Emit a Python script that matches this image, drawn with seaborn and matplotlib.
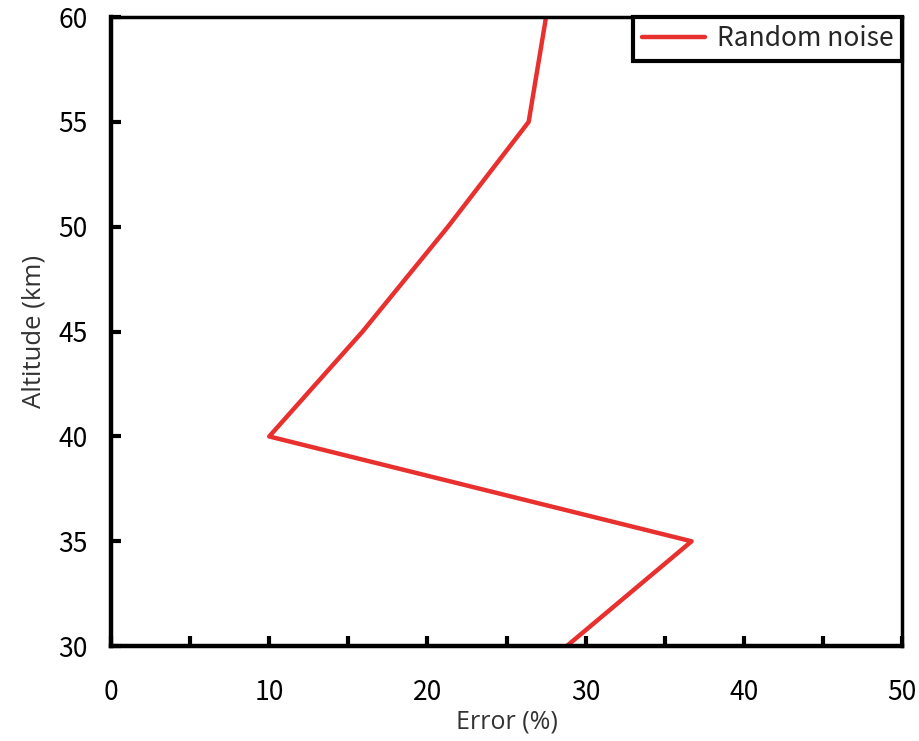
import matplotlib
matplotlib.use("Agg")
import matplotlib.pyplot as plt
import seaborn as sns
import pandas as pd

altitude_km = [30, 35, 40, 45, 50, 55, 60]
error_pct = [28.8, 36.7, 10.0, 15.9, 21.3, 26.4, 27.5]
series_name = "Random noise"
x_ticks = [0, 10, 20, 30, 40, 50]
y_ticks = [30, 35, 40, 45, 50, 55, 60]

sns.set_theme(style="white")
plt.rcParams["font.family"] = ["Noto Sans CJK JP", "DejaVu Sans"]
plt.rcParams["xtick.bottom"] = True
plt.rcParams["ytick.left"] = True

df = pd.DataFrame({"Error": error_pct, "Altitude": altitude_km, "series": series_name})

fig = plt.figure(figsize=(9.19, 7.41), dpi=100)
ax = fig.add_axes([0.1208, 0.128, 0.8607, 0.849])

sns.lineplot(data=df, x="Error", y="Altitude", hue="series", sort=False,
             palette=["#E8302E"], linewidth=3.2, ax=ax)

ax.set_xlim(0, 50)
ax.set_ylim(30, 60)
ax.set_xticks(x_ticks)
ax.set_xticks([5, 15, 25, 35, 45], minor=True)
ax.set_yticks(y_ticks)
ax.tick_params(axis="both", which="both", direction="in", length=7, width=3,
               color="black", labelsize=19, labelcolor="black",
               bottom=True, left=True, top=False, right=False)
ax.tick_params(axis="y", pad=17)
ax.tick_params(axis="x", pad=24)

for side in ["left", "bottom"]:
    ax.spines[side].set_linewidth(3.2)
    ax.spines[side].set_color("black")
for side in ["top", "right"]:
    ax.spines[side].set_linewidth(2.5)
    ax.spines[side].set_color("black")

ax.set_xlabel("Error (%)", fontsize=18, color="#333333", family=["Open Sans", "DejaVu Sans"], labelpad=2)
ax.set_ylabel("Altitude (km)", fontsize=18.5, color="#333333", family=["Open Sans", "DejaVu Sans"], labelpad=8)

leg = ax.legend(loc="upper right", fontsize=19, frameon=True, fancybox=False,
                borderaxespad=0.0, handlelength=2.4, borderpad=0.32, handletextpad=0.45)
leg.get_frame().set_edgecolor("black")
leg.get_frame().set_linewidth(3.0)
leg.get_frame().set_alpha(1)

fig.savefig("out.png", dpi=100)
